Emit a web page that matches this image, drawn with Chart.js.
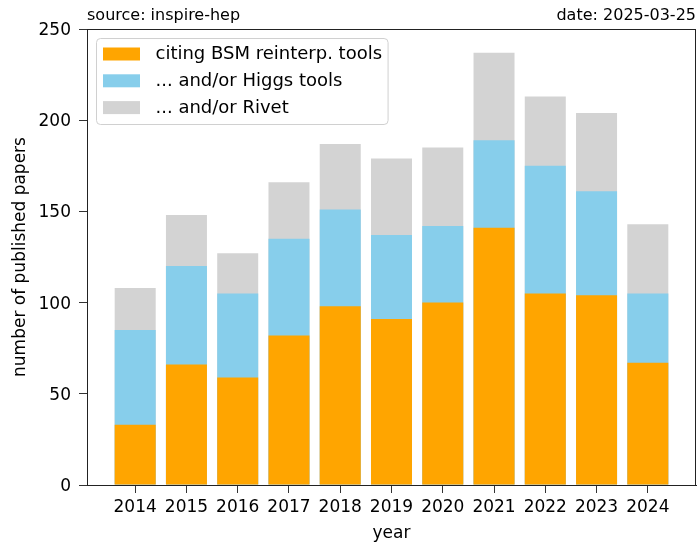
<!DOCTYPE html>
<html>
<head>
<meta charset="utf-8">
<title>BSM reinterpretation tools - published papers</title>
<script src="https://cdn.jsdelivr.net/npm/chart.js@4.4.1/dist/chart.umd.min.js"></script>
<style>
  html, body { margin: 0; padding: 0; background: #fff; }
  canvas { display: block; }
</style>
</head>
<body>
<canvas id="chart" width="697" height="545"></canvas>
<script>
// data (cumulative totals per year)
const years = [2014, 2015, 2016, 2017, 2018, 2019, 2020, 2021, 2022, 2023, 2024];
const bsmTools = [33, 66, 59, 82, 98, 91, 100, 141, 105, 104, 67];
const plusHiggs = [85, 120, 105, 135, 151, 137, 142, 189, 175, 161, 105];
const plusRivet = [108, 148, 127, 166, 187, 179, 185, 237, 213, 204, 143];
const yTicks = [0, 50, 100, 150, 200, 250];

const sourceText = "source: inspire-hep";
const dateText = "date: 2025-03-25";

Chart.defaults.font.family = "'DejaVu Sans', sans-serif";
Chart.defaults.color = "#000";

function points(values) {
  return years.map((y, i) => ({ x: y, y: values[i] }));
}

// matplotlib-style frame, header texts and legend box
const decorations = {
  id: "decorations",
  afterDatasetsDraw(chart) {
    const { ctx, chartArea } = chart;
    ctx.save();

    // closed frame around the axes
    ctx.strokeStyle = "#222";
    ctx.lineWidth = 1;
    ctx.strokeRect(chartArea.left + 0.5, chartArea.top + 0.5,
      chartArea.right - chartArea.left - 1, chartArea.bottom - chartArea.top);

    // header
    ctx.fillStyle = "#000";
    ctx.font = "16px 'DejaVu Sans'";
    ctx.textBaseline = "alphabetic";
    ctx.textAlign = "left";
    ctx.fillText(sourceText, chartArea.left, 19.5);
    ctx.textAlign = "right";
    ctx.fillText(dateText, chartArea.right, 19.5);

    // legend
    const items = chart.data.datasets;
    ctx.font = "18px 'DejaVu Sans'";
    const textW = Math.max(...items.map(d => ctx.measureText(d.label).width));
    const x0 = chartArea.left + 9.5;
    const y0 = chartArea.top + 9.5;
    const w = 59 + textW + 6;
    const h = 86;
    ctx.beginPath();
    ctx.roundRect(x0, y0, w, h, 4);
    ctx.fillStyle = "rgba(255,255,255,0.8)";
    ctx.fill();
    ctx.strokeStyle = "#d0d0d0";
    ctx.stroke();

    ctx.textAlign = "left";
    ctx.textBaseline = "middle";
    items.forEach((d, i) => {
      const cy = y0 + 15.5 + i * 26.8;
      ctx.fillStyle = d.backgroundColor;
      ctx.fillRect(x0 + 6.5, cy - 6.5, 37, 13);
      ctx.fillStyle = "#000";
      ctx.fillText(d.label, x0 + 59, cy + 0.5);
    });
    ctx.restore();
  }
};

const ctx = document.getElementById("chart");

new Chart(ctx, {
  type: "bar",
  data: {
    datasets: [
      {
        label: "citing BSM reinterp. tools",
        data: points(bsmTools),
        backgroundColor: "#FFA500",
      },
      {
        label: "... and/or Higgs tools",
        data: points(plusHiggs),
        backgroundColor: "#87CEEB",
      },
      {
        label: "... and/or Rivet",
        data: points(plusRivet),
        backgroundColor: "#D3D3D3",
      },
    ],
  },
  options: {
    responsive: false,
    animation: false,
    layout: { padding: { top: 29, right: 1, left: 0, bottom: 0 } },
    datasets: {
      bar: {
        grouped: false,
        borderWidth: 0,
        categoryPercentage: 1,
        barPercentage: 0.8,
      },
    },
    scales: {
      x: {
        type: "linear",
        offset: false,
        min: years[0] - 0.94,
        max: years[years.length - 1] + 0.94,
        afterBuildTicks: (s) => { s.ticks = years.map(v => ({ value: v })); },
        afterFit: (s) => { s.height = 60; },
        grid: {
          display: true,
          offset: false,
          drawOnChartArea: false,
          drawTicks: true,
          tickLength: 8,
          color: "#333",
        },
        border: { display: true, color: "#222", width: 1 },
        ticks: {
          font: { size: 17 },
          padding: 4,
          maxRotation: 0,
          autoSkip: false,
          callback: (v) => String(v),
        },
        title: {
          display: true,
          text: "year",
          font: { size: 17 },
          padding: { top: 0, bottom: 1 },
        },
      },
      y: {
        min: 0,
        max: 250,
        afterBuildTicks: (s) => { s.ticks = yTicks.map(v => ({ value: v })); },
        afterFit: (s) => { s.width = 87; },
        grid: {
          display: true,
          drawOnChartArea: false,
          drawTicks: true,
          tickLength: 8,
          color: "#333",
        },
        border: { display: true, color: "#222", width: 1 },
        ticks: {
          font: { size: 17 },
          padding: 8,
          labelOffset: 1.5,
          callback: (v) => String(v),
        },
        title: {
          display: true,
          text: "number of published papers",
          font: { size: 17 },
          padding: { top: 10, bottom: 0 },
        },
      },
    },
    plugins: {
      legend: { display: false },
      tooltip: { enabled: false },
    },
  },
  plugins: [decorations],
});
</script>
</body>
</html>
